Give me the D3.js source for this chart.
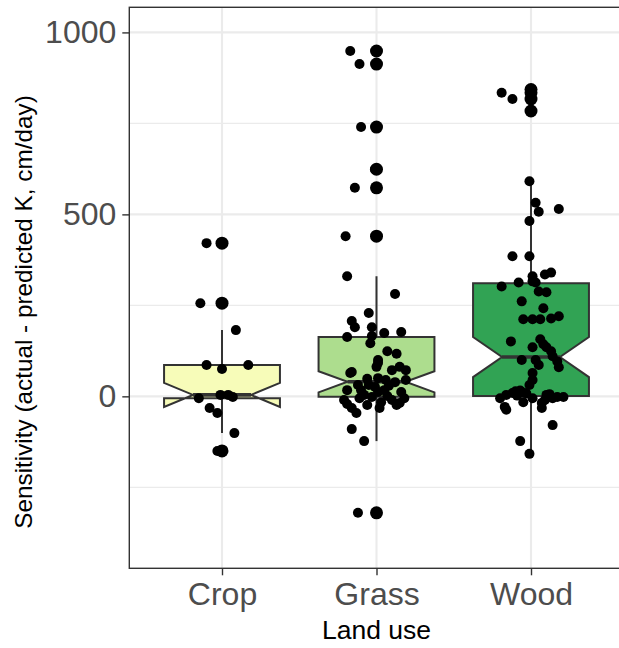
<!DOCTYPE html>
<html>
<head>
<meta charset="utf-8">
<script src="https://cdn.jsdelivr.net/npm/d3@7"></script>
<style>
  html, body { margin: 0; padding: 0; background: #fff; }
  svg { display: block; }
  text { font-family: "Liberation Sans", Arial, sans-serif; }
</style>
</head>
<body>
<div id="chart"></div>
<script>
// Land-use categories and their fill colours (YlGn)
const categories = ["Crop", "Grass", "Wood"];
const fillColors = ["#f7fcb9", "#addd8e", "#31a354"];

// Box-plot summary per category
const whiskerLow  = [-101, -123, -158];
const hingeLow    = [-5, -1, 1];
const medians     = [4, 40, 108];
const hingeHigh   = [86, 163, 311];
const whiskerHigh = [182, 330, 591];
const notchLow    = [-29, 11, 53];
const notchHigh   = [37, 69, 163];

// Outliers per category
const cropOutliers  = [421, 256, -150];
const grassOutliers = [949, 913, 740, 624, 573, 440, -320];
const woodOutliers  = [843, 834, 817, 784];

// Observations: [sensitivity, horizontal jitter as a fraction of category step]
const cropPoints = [
  [421,-0.10],[256,-0.14],[182,0.09],[86,-0.10],[75,0.00],[86,0.17],[-5,-0.15],
  [4,-0.01],[4,0.04],[-2,0.07],[-32,-0.08],[-46,-0.03],[-101,0.08],[-150,-0.03]
];
const grassPoints = [
  [949,-0.17],[913,-0.11],[740,-0.10],[624,-0.01],[573,-0.14],[440,-0.20],[330,-0.19],
  [281,0.12],[229,-0.05],[207,-0.16],[190,-0.14],[190,-0.03],[163,-0.19],[174,0.05],
  [177,0.16],[166,-0.03],[146,-0.04],[124,0.07],[117,0.13],[100,0.01],[92,0.01],
  [81,0.00],[64,-0.17],[67,-0.16],[72,0.10],[81,0.15],[72,0.19],[48,-0.06],[50,0.01],
  [45,0.06],[39,0.12],[45,0.19],[31,-0.12],[17,-0.19],[26,-0.01],[12,0.01],[17,0.05],
  [12,0.16],[-5,0.18],[-10,-0.21],[-16,0.03],[-24,-0.06],[-24,0.13],[-21,-0.19],
  [-32,-0.16],[-46,-0.13],[-90,-0.16],[-123,-0.08],[-320,-0.12],[4,-0.08],[-2,-0.03],
  [1,0.07],[-5,-0.11],[-10,0.10],[-32,0.02],[-18,0.15],[31,-0.05],[29,0.08],[17,-0.10]
];
const woodPoints = [
  [834,-0.19],[817,-0.12],[843,0.00],[784,0.00],[591,-0.01],[532,0.03],[507,0.05],
  [515,0.18],[482,-0.01],[385,-0.12],[385,-0.01],[330,0.01],[316,0.01],[313,0.03],
  [335,0.09],[340,0.13],[302,-0.19],[313,-0.08],[288,0.05],[286,0.10],[261,-0.06],
  [242,0.08],[212,-0.05],[212,0.01],[212,0.06],[214,0.13],[220,0.18],[151,-0.13],
  [157,0.06],[143,0.08],[135,0.10],[124,0.13],[135,0.01],[110,0.14],[96,0.17],[80,0.18],
  [100,-0.06],[100,0.03],[86,0.05],[64,0.01],[45,0.01],[31,-0.01],[-5,-0.20],[4,-0.16],
  [9,-0.12],[12,-0.06],[-16,-0.05],[-5,0.01],[4,0.10],[-5,0.14],[-2,0.17],[-2,0.21],
  [-32,0.07],[-37,-0.16],[-79,0.14],[-123,-0.07],[-158,-0.01],[-18,0.07],[-10,0.09],
  [-29,-0.17],[8,-0.03],[2,-0.09],[6,0.12],[14,-0.10],[16,-0.07],[10,-0.05]
];

// Axis breaks
const majorTicks = [0, 500, 1000];
const minorTicks = [-250, 250, 750];

const outliers = [cropOutliers, grassOutliers, woodOutliers];
const points = [cropPoints, grassPoints, woodPoints];

const W = 619, H = 648;
const panel = { left: 129.3, right: 623.7, top: 7.3, bottom: 568.3 };

const svg = d3.select("#chart").append("svg")
  .attr("width", W).attr("height", H);

const x = d3.scalePoint().domain(categories)
  .range([panel.left, panel.right]).padding(0.6);
const y = d3.scaleLinear().domain([-472.5, 1069])
  .range([panel.bottom, panel.top]);

const step = x.step();
const boxW = step * 0.75;

// panel background + grid
const g = svg.append("g");
g.append("rect")
  .attr("x", panel.left).attr("y", panel.top)
  .attr("width", panel.right - panel.left).attr("height", panel.bottom - panel.top)
  .attr("fill", "#fff");

g.selectAll("line.minor").data(minorTicks).join("line")
  .attr("x1", panel.left).attr("x2", panel.right)
  .attr("y1", d => y(d)).attr("y2", d => y(d))
  .attr("stroke", "#ebebeb").attr("stroke-width", 1.1);
g.selectAll("line.majorY").data(majorTicks).join("line")
  .attr("x1", panel.left).attr("x2", panel.right)
  .attr("y1", d => y(d)).attr("y2", d => y(d))
  .attr("stroke", "#ebebeb").attr("stroke-width", 2.1);
g.selectAll("line.majorX").data(categories).join("line")
  .attr("y1", panel.top).attr("y2", panel.bottom)
  .attr("x1", d => x(d)).attr("x2", d => x(d))
  .attr("stroke", "#ebebeb").attr("stroke-width", 2.1);

// notched boxes with whiskers and outliers
const stroke = "#333333";
const lw = 2;
categories.forEach((c, i) => {
  const cx = x(c);
  const x0 = cx - boxW / 2, x1 = cx + boxW / 2;
  const ind = boxW / 4;
  const grp = g.append("g");
  grp.append("line").attr("x1", cx).attr("x2", cx)
    .attr("y1", y(hingeHigh[i])).attr("y2", y(whiskerHigh[i]))
    .attr("stroke", stroke).attr("stroke-width", lw);
  grp.append("line").attr("x1", cx).attr("x2", cx)
    .attr("y1", y(hingeLow[i])).attr("y2", y(whiskerLow[i]))
    .attr("stroke", stroke).attr("stroke-width", lw);
  const poly = [
    [x0, y(hingeHigh[i])], [x0, y(notchHigh[i])], [x0 + ind, y(medians[i])],
    [x0, y(notchLow[i])], [x0, y(hingeLow[i])], [x1, y(hingeLow[i])],
    [x1, y(notchLow[i])], [x1 - ind, y(medians[i])], [x1, y(notchHigh[i])],
    [x1, y(hingeHigh[i])]
  ];
  grp.append("path")
    .attr("d", d3.line()(poly) + "Z")
    .attr("fill", fillColors[i]).attr("stroke", stroke)
    .attr("stroke-width", lw).attr("stroke-linejoin", "miter");
  grp.append("line")
    .attr("x1", x0 + ind).attr("x2", x1 - ind)
    .attr("y1", y(medians[i])).attr("y2", y(medians[i]))
    .attr("stroke", stroke).attr("stroke-width", 3.6);
  grp.selectAll("circle").data(outliers[i]).join("circle")
    .attr("cx", cx).attr("cy", d => y(d)).attr("r", 6.5).attr("fill", "#000");
});

// jittered observations
categories.forEach((c, i) => {
  g.append("g").selectAll("circle").data(points[i]).join("circle")
    .attr("cx", d => x(c) + d[1] * step)
    .attr("cy", d => y(d[0]))
    .attr("r", 5).attr("fill", "#000");
});

// panel border
g.append("rect")
  .attr("x", panel.left).attr("y", panel.top)
  .attr("width", panel.right - panel.left).attr("height", panel.bottom - panel.top)
  .attr("fill", "none").attr("stroke", stroke).attr("stroke-width", 1.4);

// axes
const yAxis = svg.append("g").attr("transform", `translate(${panel.left},0)`)
  .call(d3.axisLeft(y).tickValues(majorTicks).tickFormat(d3.format("d"))
    .tickSize(7).tickPadding(6));
const xAxis = svg.append("g").attr("transform", `translate(0,${panel.bottom})`)
  .call(d3.axisBottom(x).tickSize(7).tickPadding(6));
[yAxis, xAxis].forEach(a => {
  a.select(".domain").remove();
  a.selectAll(".tick line").attr("stroke", stroke).attr("stroke-width", 1.4);
  a.selectAll(".tick text").attr("fill", "#4d4d4d")
    .style("font-size", "32px").style("font-family", "'Liberation Sans', Arial, sans-serif");
});
xAxis.selectAll(".tick text").attr("dy", null).attr("y", 37);

// axis titles
svg.append("text")
  .attr("x", (panel.left + panel.right) / 2).attr("y", 639)
  .attr("text-anchor", "middle").attr("fill", "#000")
  .style("font-size", "26.5px").text("Land use");
svg.append("text")
  .attr("transform", "translate(32,312) rotate(-90)")
  .attr("text-anchor", "middle").attr("fill", "#000")
  .style("font-size", "24.3px").text("Sensitivity (actual - predicted K, cm/day)");
</script>
</body>
</html>
